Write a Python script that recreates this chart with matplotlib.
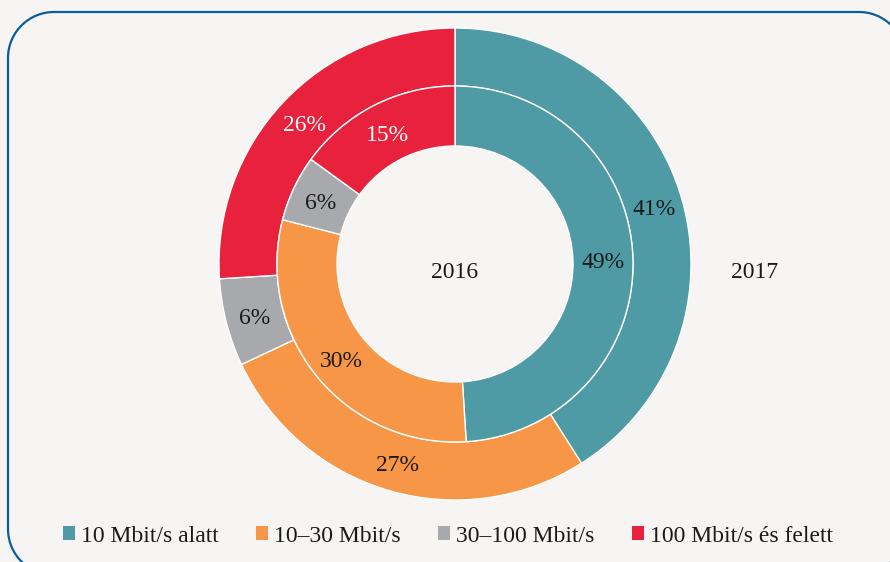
import numpy as np
import matplotlib.pyplot as plt
from matplotlib.patches import Patch

# Data
categories = ["10 Mbit/s alatt", "10\u201330 Mbit/s", "30\u2013100 Mbit/s", "100 Mbit/s és felett"]
values_2017 = [41, 27, 6, 26]   # outer ring
values_2016 = [49, 30, 6, 15]   # inner ring
colors = ["#4f9ba5", "#f79646", "#a7a9ac", "#e8213c"]
label_colors = ["#1a1a1a", "#1a1a1a", "#1a1a1a", "white"]

bg = "#f6f5f3"
plt.rcParams["font.family"] = ["Liberation Serif", "DejaVu Serif"]

fig = plt.figure(figsize=(8.9, 5.62), dpi=100, facecolor=bg)
ax = fig.add_axes([0, 0, 1, 1])
ax.set_facecolor(bg)

cx, cy = 455, 562 - 264

# outer ring: 2017
w_out, t_out, a_out = ax.pie(values_2017, colors=colors, startangle=90, counterclock=False,
                             radius=236, center=(cx, cy), autopct="%.0f%%",
                             pctdistance=207 / 236,
                             wedgeprops=dict(width=58, edgecolor="white", linewidth=1),
                             textprops=dict(fontsize=17))
# inner ring: 2016
w_in, t_in, a_in = ax.pie(values_2016, colors=colors, startangle=90, counterclock=False,
                          radius=178, center=(cx, cy), autopct="%.0f%%",
                          pctdistance=148 / 178,
                          wedgeprops=dict(width=60, edgecolor="white", linewidth=1),
                          textprops=dict(fontsize=17))
for txts in (a_out, a_in):
    for t, c in zip(txts, label_colors):
        t.set_color(c)
        x, y = t.get_position()
        t.set_position((x, y - 3))

ax.text(cx, cy - 8, "2016", ha="center", va="center", fontsize=17, color="#1a1a1a")
ax.text(755, cy - 8, "2017", ha="center", va="center", fontsize=17, color="#1a1a1a")

ax.set_xlim(0, 890)
ax.set_ylim(0, 562)
ax.set_aspect("equal")
ax.axis("off")

# rounded frame (pixel box: left 8, top 12, right 905, bottom 575)
left, right, top, bottom, r = 8, 905, 562 - 12, 562 - 575, 46
pts = []
for (ox, oy, a0) in [(right - r, top - r, 0), (left + r, top - r, 90),
                     (left + r, bottom + r, 180), (right - r, bottom + r, 270)]:
    ang = np.radians(np.linspace(a0, a0 + 90, 30))
    pts.append(np.column_stack([ox + r * np.cos(ang), oy + r * np.sin(ang)]))
pts = np.vstack(pts + [pts[0][:1]])
ax.plot(pts[:, 0], pts[:, 1], color="#0b5c9e", linewidth=1.6, clip_on=False)

handles = [Patch(facecolor=c, edgecolor="none") for c in colors]
ax.legend(handles, categories, ncol=4, loc="center", bbox_to_anchor=(448, 26),
          bbox_transform=ax.transData, frameon=False, fontsize=17,
          handlelength=0.5, handleheight=0.5, handletextpad=0.25, columnspacing=1.6,
          labelcolor="#1a1a1a")

fig.savefig("out.png", dpi=100, facecolor=bg)
